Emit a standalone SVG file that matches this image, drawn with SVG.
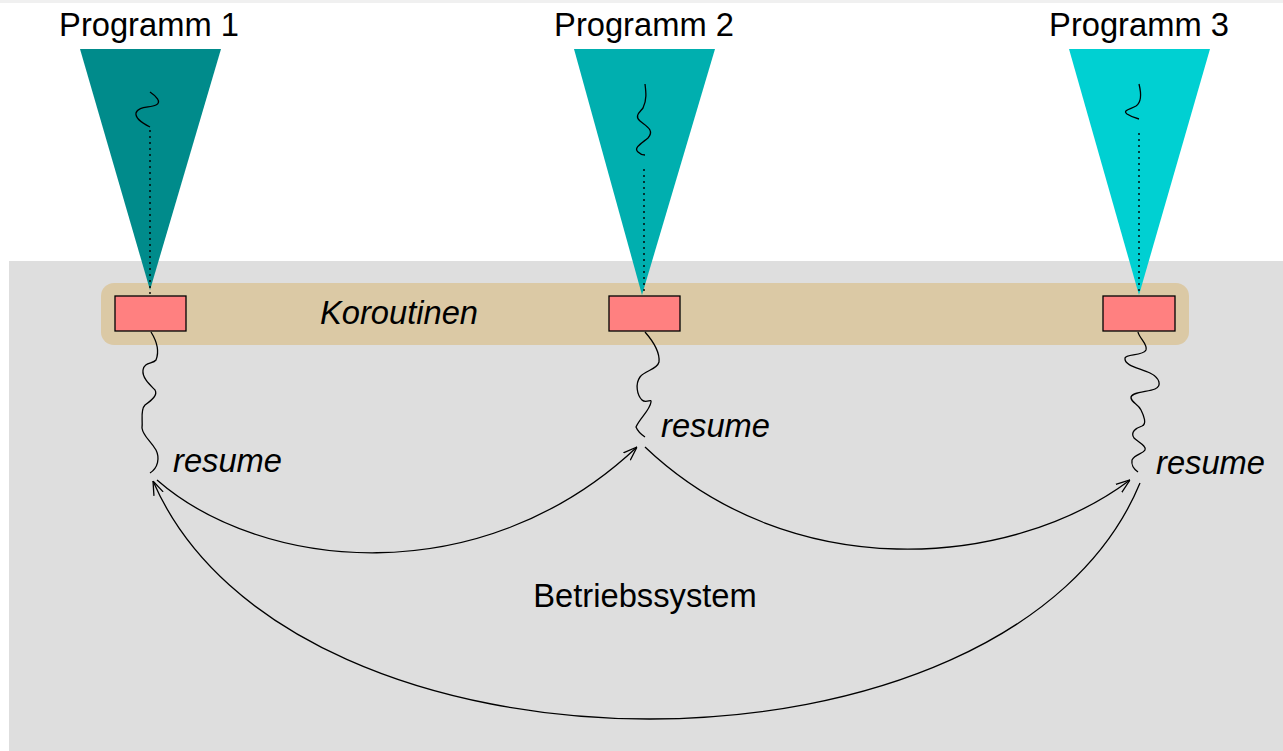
<svg xmlns="http://www.w3.org/2000/svg" width="1283" height="751" viewBox="0 0 1283 751">
<defs>
<style>
.lbl{font-family:"Liberation Sans",Arial,sans-serif;font-size:32.7px;fill:#000}
.it{font-style:italic}
.wave{fill:none;stroke:#000;stroke-width:1.3}
.dot{fill:none;stroke:#000;stroke-width:1.4;stroke-dasharray:2 4}
.box{fill:#ff8080;stroke:#000;stroke-width:1.3}
.arc{fill:none;stroke:#000;stroke-width:1.3;marker-end:url(#arr)}
</style>
<marker id="arr" viewBox="0 0 14 12" refX="14" refY="6" markerWidth="14" markerHeight="12" markerUnits="userSpaceOnUse" orient="auto">
<path d="M0,1 L14,6 L0,11" fill="none" stroke="#000" stroke-width="1.3"/>
</marker>
</defs>
<rect x="0" y="0" width="1283" height="751" fill="#fff"/>
<rect x="0" y="0" width="1283" height="3" fill="#f0f0f0"/>
<g id="betriebssystem">
<rect x="9" y="261" width="1274" height="490" fill="#dedede"/>
<text class="lbl" x="645" y="607" text-anchor="middle">Betriebssystem</text>
</g>
<g id="koroutinen">
<rect x="101" y="283" width="1088" height="62" rx="13" fill="#dbc9a5"/>
<text class="lbl it" x="399" y="324" text-anchor="middle">Koroutinen</text>
</g>
<g id="programm1">
<polygon points="80,49 221,49 150,290" fill="#008b8b"/>
<path class="wave" d="M150,92 C156,96 162,102 156,105 C150,108 138,106 136,113 C135,119 144,124 150,127"/>
<line class="dot" x1="150" y1="130" x2="150" y2="294"/>
<text class="lbl" x="149" y="36" text-anchor="middle">Programm 1</text>
</g>
<g id="programm2">
<polygon points="574,49 715,49 642,295" fill="#00afaf"/>
<path class="wave" d="M645,84 C646,92 647,100 643,108 C640,112 634,116 640,121 C646,126 655,130 648,138 C642,143 633,148 638,152 C640,154 643,155 645,155"/>
<line class="dot" x1="644" y1="169" x2="644" y2="295"/>
<text class="lbl" x="644" y="36" text-anchor="middle">Programm 2</text>
</g>
<g id="programm3">
<polygon points="1069,49 1210,49 1139,295" fill="#00d0d2"/>
<path class="wave" d="M1139,84 C1141,92 1142,102 1136,106 C1131,109 1122,110 1127,114 C1130,116 1135,118 1139,119"/>
<line class="dot" x1="1139" y1="133" x2="1139" y2="295"/>
<text class="lbl" x="1139" y="36" text-anchor="middle">Programm 3</text>
</g>
<g id="koroutine1">
<rect class="box" x="115" y="296" width="71" height="35"/>
<path class="wave" d="M151,332 C156,340 160,350 156,360 C153,364 144,362 143,370 C142,378 150,385 155,390 C158,395 152,400 145,405 C140,410 143,420 142,428 C143,436 150,440 156,450 C160,458 158,468 150,473"/>
<text class="lbl it" x="173" y="472">resume</text>
</g>
<g id="koroutine2">
<rect class="box" x="609" y="296" width="71" height="35"/>
<path class="wave" d="M645,332 C652,340 660,352 659,362 C657,370 645,370 640,377 C635,384 637,395 642,400 C646,404 652,398 651,402 C650,410 640,418 636,427 C638,432 642,435 645,437"/>
<text class="lbl it" x="661" y="437">resume</text>
</g>
<g id="koroutine3">
<rect class="box" x="1103" y="296" width="72" height="35"/>
<path class="wave" d="M1138,332 C1139,338 1148,344 1146,350 C1143,356 1126,354 1125,358 C1124,366 1140,368 1150,373 C1160,378 1162,386 1155,389 C1148,392 1130,392 1131,398 C1132,403 1138,404 1141,410 C1144,416 1147,424 1142,426 C1136,428 1130,432 1134,438 C1138,442 1147,446 1145,450 C1143,454 1135,454 1132,460 C1131,466 1134,469 1138,472"/>
<text class="lbl it" x="1156" y="474">resume</text>
</g>
<g id="connectors">
<path class="arc" d="M157,480 C260,570 480,595 637,447"/>
<path class="arc" d="M645,447 C790,585 1010,570 1130,480"/>
<path class="arc" d="M1140,483 C1010,798 290,798 153,481"/>
</g>
</svg>
